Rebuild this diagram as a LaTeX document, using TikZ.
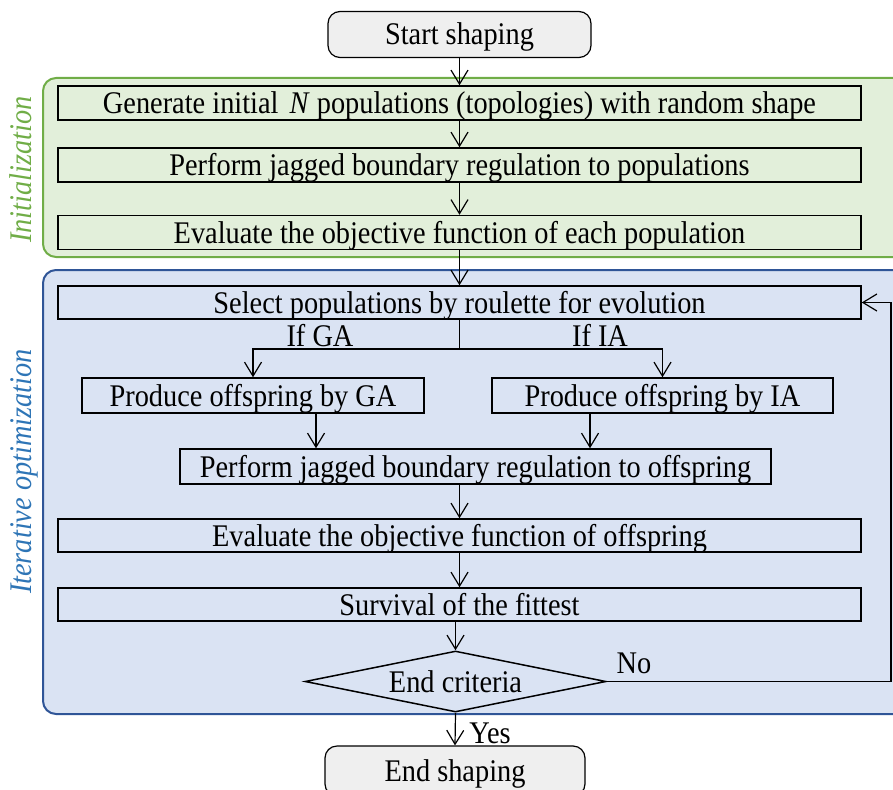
\documentclass[tikz,border=0pt]{standalone}
\usepackage{fontspec}
\setmainfont{Liberation Serif}[FakeStretch=0.9]
\usetikzlibrary{arrows.meta,shapes.geometric}

\definecolor{initfill}{HTML}{E2EFDA}
\definecolor{initline}{HTML}{70AD47}
\definecolor{iterfill}{HTML}{DAE3F3}
\definecolor{iterline}{HTML}{2F5597}
\definecolor{iterlabel}{HTML}{2E75B6}
\definecolor{termfill}{HTML}{EFEFEF}

\tikzset{
  captext/.style={text height=21pt, text depth=0pt},
  stepbox/.style={draw=black, line width=1.5pt, inner sep=0pt, minimum height=34pt, captext},
  terminal/.style={draw=black, fill=termfill, line width=1.2pt, rounded corners=12pt,
                   inner sep=0pt, minimum width=263pt, minimum height=46pt, captext},
  group/.style={line width=2pt, rounded corners=13pt},
  arr/.style={line width=1.2pt, -{Straight Barb[length=14pt,width=17pt,line width=1.2pt]}},
  flow/.style={line width=1.2pt},
  lbl/.style={inner sep=0pt, captext},
  side/.style={inner sep=0pt, rotate=90, font=\itshape, captext}
}

\begin{document}
\begin{tikzpicture}[x=1pt,y=-1pt]
\fontsize{31.5}{36}\selectfont
\useasboundingbox (0,0) rectangle (893,789);
\clip (0,0) rectangle (893,789);

% stage containers
\draw[group, draw=initline, fill=initfill] (43,78) rectangle (910,257);
\draw[group, draw=iterline, fill=iterfill] (43,270) rectangle (910,714);
\node[side, text=initline] (initlabel) at (20.5,169.5) {Initialization};
\node[side, text=iterlabel] (iterlabel) at (21,471.5) {Iterative optimization};

% terminals
\node[terminal] (start) at (459.5,34.5) {Start shaping};
\node[terminal, minimum width=260pt, minimum height=50pt] (stop) at (455,771) {End shaping};

% initialization steps
\node[stepbox, minimum width=803pt] (gen) at (459.5,103) {Generate initial\hspace{0.35em}\textit{N} populations (topologies) with random shape};
\node[stepbox, minimum width=803pt] (jag) at (459.5,165) {Perform jagged boundary regulation to populations};
\node[stepbox, minimum width=803pt] (eval) at (459.5,232.5) {Evaluate the objective function of each population};

% optimization loop
\node[stepbox, minimum width=803pt, minimum height=33pt] (sel) at (459.5,302.5) {Select populations by roulette for evolution};
\node[stepbox, minimum width=342pt, minimum height=35pt] (ga) at (253,395.5) {Produce offspring by GA};
\node[stepbox, minimum width=341pt, minimum height=35pt] (ia) at (662.5,395.5) {Produce offspring by IA};
\node[stepbox, minimum width=591pt, minimum height=35pt] (poff) at (475.5,466.5) {Perform jagged boundary regulation to offspring};
\node[stepbox, minimum width=803pt, minimum height=33pt] (eoff) at (459.5,535.5) {Evaluate the objective function of offspring};
\node[stepbox, minimum width=803pt, minimum height=33pt] (surv) at (459.5,604.5) {Survival of the fittest};
\node[diamond, draw=black, line width=1.5pt, inner sep=0pt,
      minimum width=301pt, minimum height=61pt] (crit) at (455.5,681.5) {};
\node[lbl] (crittext) at (crit) {End criteria};

% connectors
\draw[arr] (start.south -| gen.north) -- (gen.north);
\draw[arr] (gen.south) -- (jag.north);
\draw[arr] (jag.south) -- (eval.north);
\draw[arr] (eval.south) -- (sel.north);
\coordinate (split) at (459.5,349);
\draw[flow] (sel.south) -- (split);
\draw[arr] (split) -| (ga.north);
\draw[arr] (split) -| (ia.north);
\node[lbl] (ifga) at (320,336) {If GA};
\node[lbl] (ifia) at (600,336) {If IA};
\draw[arr] (316,0 |- ga.south) -- (316,0 |- poff.north);
\draw[arr] (590,0 |- ia.south) -- (590,0 |- poff.north);
\draw[arr] (459.5,0 |- poff.south) -- (eoff.north);
\draw[arr] (eoff.south) -- (surv.north);
\draw[arr] (surv.south -| crit.north) -- (crit.north);
\coordinate (loopcorner) at (891,0 |- crit.east);
\draw[arr] (crit.east) -- (loopcorner) |- (sel.east);
\node[lbl] (no) at (634,663) {No};
\draw[arr] (crit.south) -- (stop.north);
\node[lbl] (yes) at (490,733) {Yes};
\end{tikzpicture}
\end{document}
